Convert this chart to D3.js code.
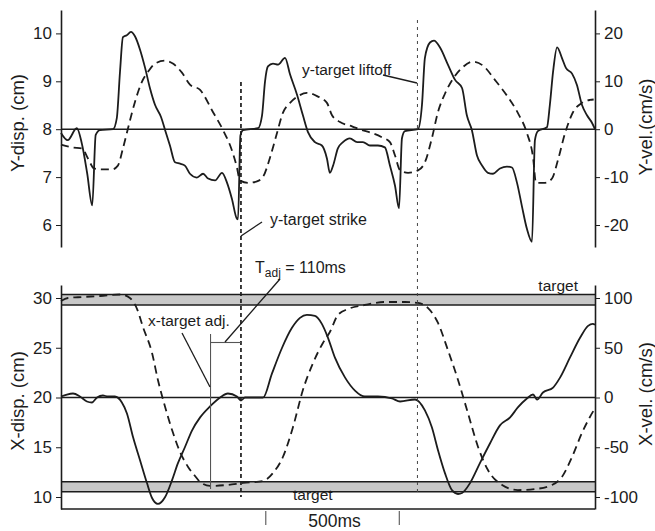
<!DOCTYPE html>
<html><head><meta charset="utf-8">
<script src="https://cdn.jsdelivr.net/npm/d3@7/dist/d3.min.js"></script>
<style>
html,body{margin:0;padding:0;background:#fff;}
svg{display:block;font-family:"Liberation Sans",Arial,Helvetica,sans-serif;}
</style></head><body>
<svg id="chart" width="655" height="531"></svg>
<script>
// ---------------- DATA ----------------
const timeRange = [0, 2000]; // ms

// Top panel: Y-velocity (solid, right axis, cm/s)
const yVelT = [0,25,59,80,98,117,130,146,195,209,221,232,246,262,277,296,315,333,352,375,390,408,427,446,464,483,509,532,551,577,603,622,640,659,663,672,682,738,753,764,775,794,813,839,858,884,906,925,951,977,996,1007,1019,1037,1056,1082,1109,1131,1157,1187,1213,1232,1251,1266,1277,1288,1337,1352,1363,1382,1397,1419,1449,1476,1502,1520,1539,1558,1577,1599,1618,1644,1670,1689,1708,1726,1745,1764,1775,1786,1820,1831,1843,1858,1876,1891,1914,1932,1951,1970,1989,2000];
const yVelV = [-0.8,-2.3,0.2,-3.5,-9.2,-15.9,-1.2,-0.2,0,2.3,12.0,19.2,19.6,20.3,19.4,16.6,12.8,8.6,5.1,2.5,-0.2,-3.4,-6.9,-7.2,-7.6,-9.3,-10.1,-9.3,-10.3,-10.7,-9.1,-11.2,-14.5,-18.7,-18.8,-1.3,-0.2,0.2,2.9,9.9,13.1,13.7,13.5,14.9,11.4,7.2,2.9,-0.6,-2.7,-3.4,-6.1,-9.1,-7.6,-4.0,-2.7,-1.9,-2.7,-2.7,-3.4,-3.4,-3.8,-7.6,-11.8,-16.5,-1.9,-0.4,0,5.1,14.9,18.1,18.5,17.1,13.5,10.3,8.6,2.9,-0.2,-5.5,-7.6,-9.1,-9.3,-8.2,-7.8,-8.0,-11.2,-16.0,-20.8,-23.5,-2.3,-0.4,0.4,5.1,12.0,17.1,14.9,12.8,11.6,9.3,5.1,2.9,1.3,0];

// Top panel: Y-displacement (dashed, left axis, cm)
const yDispT = [0,41,79,101,124,154,191,213,232,251,277,303,326,352,390,419,453,483,521,569,607,640,659,670,700,734,757,783,809,831,858,888,921,959,996,1015,1045,1090,1127,1165,1202,1232,1251,1270,1300,1337,1363,1389,1412,1438,1468,1502,1543,1580,1625,1674,1711,1745,1768,1779,1813,1839,1861,1888,1918,1951,1981,1995];
const yDispV = [7.68,7.62,7.60,7.39,7.18,7.16,7.16,7.24,7.60,8.02,8.57,8.99,9.20,9.37,9.43,9.37,9.18,8.93,8.82,8.36,7.98,7.56,7.20,6.93,6.88,6.91,7.01,7.41,7.92,8.34,8.55,8.69,8.76,8.69,8.55,8.29,8.15,8.06,7.98,7.92,7.83,7.73,7.45,7.14,7.09,7.14,7.31,7.81,8.36,8.74,9.05,9.28,9.41,9.33,9.03,8.67,8.34,7.92,7.41,6.88,6.88,6.97,7.35,7.92,8.36,8.55,8.61,8.62];

// Bottom panel: X-velocity (solid, right axis, cm/s)
const xVelT = [0,22,45,71,97,116,135,157,176,202,228,247,270,296,322,341,363,390,416,438,464,491,521,558,596,625,659,674,689,757,790,828,865,895,921,951,977,1000,1026,1064,1101,1138,1187,1240,1270,1326,1363,1389,1412,1438,1464,1487,1502,1532,1569,1607,1644,1682,1711,1745,1768,1783,1805,1843,1869,1906,1944,1974,1992,2000];
const xVelV = [1,3,4,1,-4,-5,0,2,1,1,-5,-16,-40,-63,-86,-101,-107,-100,-83,-66,-50,-33,-20,-9,0,4,1,-3,0,0,24,50,70,80,83,82,74,60,40,20,7,1,1,-1,-4,-2,-13,-30,-53,-76,-93,-97,-96,-86,-66,-46,-28,-20,-10,-1,3,-2,5,10,20,40,60,72,74,73];

// Bottom panel: X-displacement (dashed, left axis, cm)
const xDispT = [0,26,79,146,221,258,285,307,341,363,390,416,446,476,502,521,558,622,682,757,794,831,869,906,944,981,1007,1037,1075,1138,1213,1288,1337,1374,1412,1449,1487,1524,1562,1599,1652,1711,1775,1839,1876,1914,1951,1981,1996];
const xDispV = [29.70,30.00,30.10,30.20,30.35,30.00,28.89,27.09,24.47,21.76,19.05,16.73,14.52,13.02,12.11,11.51,11.11,11.21,11.41,11.61,12.41,14.02,17.04,20.75,23.47,25.48,26.58,28.29,28.89,29.30,29.60,29.60,29.50,29.00,27.49,24.77,21.76,18.44,15.03,12.71,11.21,10.70,10.80,11.21,12.01,14.02,16.43,18.04,18.74];

// Targets (cm) and event times (ms)
const targetFar = [29.3, 30.35];
const targetNear = [10.53, 11.54];
const yStrikeT = 674, yLiftoffT = 1335, xAdjT = 560;
const scaleBar = [767, 1267];

// Tick labels
const yDispTicks = [6,7,8,9,10];
const yVelTicks = [-20,-10,0,10,20];
const xDispTicks = [10,15,20,25,30];
const xVelTicks = [-100,-50,0,50,100];

// ---------------- SCALES ----------------
const svg = d3.select("#chart");
const x = d3.scaleLinear().domain(timeRange).range([61,595]);

function extend(s, r0, r1){ const d0=s.invert(r0), d1=s.invert(r1); return s.domain([d0,d1]).range([r0,r1]); }
const yDispS = extend(d3.scaleLinear().domain([6,10]).range([225,33.4]), 247, 10);
const yVelS  = extend(d3.scaleLinear().domain([-20,20]).range([225,33.4]), 247, 10);
const xDispS = extend(d3.scaleLinear().domain([10,30]).range([497,298]), 509, 285);
const xVelS  = extend(d3.scaleLinear().domain([-100,100]).range([497,298]), 509, 285);

const ink = "#1c1c1c";

// ---------------- BANDS ----------------
function band(rng){
  const y0 = xDispS(rng[1]), y1 = xDispS(rng[0]);
  svg.append("rect").attr("x",x(0)).attr("y",y0).attr("width",x(2000)-x(0)).attr("height",y1-y0).attr("fill","#c8c8c8");
  [y0,y1].forEach(yy=>svg.append("line").attr("x1",x(0)).attr("x2",x(2000)).attr("y1",yy).attr("y2",yy).attr("stroke",ink).attr("stroke-width",1.4));
}
band(targetFar); band(targetNear);

// zero lines
svg.append("line").attr("x1",x(0)).attr("x2",x(2000)).attr("y1",yVelS(0)).attr("y2",yVelS(0)).attr("stroke",ink).attr("stroke-width",1.6);
svg.append("line").attr("x1",x(0)).attr("x2",x(2000)).attr("y1",xVelS(0)).attr("y2",xVelS(0)).attr("stroke",ink).attr("stroke-width",1.4);
// bottom frame line
svg.append("line").attr("x1",x(0)).attr("x2",x(2000)).attr("y1",509).attr("y2",509).attr("stroke",ink).attr("stroke-width",1.5);

// ---------------- CURVES ----------------
function curve(T,V,ys,dash){
  const pts = T.map((t,i)=>[t,V[i]]);
  const line = d3.line().x(d=>x(d[0])).y(d=>ys(d[1])).curve(d3.curveMonotoneX);
  const p = svg.append("path").attr("d",line(pts)).attr("fill","none").attr("stroke",ink).attr("stroke-width",1.8).attr("stroke-linejoin","round");
  if(dash) p.attr("stroke-dasharray",dash);
}
curve(yDispT,yDispV,yDispS,"8,5");
curve(yVelT,yVelV,yVelS,null);
curve(xDispT,xDispV,xDispS,"8,5");
curve(xVelT,xVelV,xVelS,null);

// ---------------- EVENT LINES ----------------
svg.append("line").attr("x1",x(yStrikeT)).attr("x2",x(yStrikeT)).attr("y1",82).attr("y2",497)
  .attr("stroke",ink).attr("stroke-width",1.7).attr("stroke-dasharray","4,3");
svg.append("line").attr("x1",x(yLiftoffT)).attr("x2",x(yLiftoffT)).attr("y1",20).attr("y2",492)
  .attr("stroke","#444").attr("stroke-width",1).attr("stroke-dasharray","3,4");

// bracket for T_adj
svg.append("line").attr("x1",x(xAdjT)).attr("x2",x(xAdjT)).attr("y1",334).attr("y2",489).attr("stroke","#555").attr("stroke-width",1.1);
svg.append("line").attr("x1",x(xAdjT)).attr("x2",x(yStrikeT)).attr("y1",342.5).attr("y2",342.5).attr("stroke","#555").attr("stroke-width",1.1);

// leader lines
const leaders = [[383,75,417,83],[241,236,262,222],[182,333,210,387],[280,279,225,342]];
leaders.forEach(l=>svg.append("line").attr("x1",l[0]).attr("y1",l[1]).attr("x2",l[2]).attr("y2",l[3]).attr("stroke",ink).attr("stroke-width",1.3));

// ---------------- TEXT ----------------
function txt(s,xx,yy,size,anchor){
  return svg.append("text").attr("x",xx).attr("y",yy).attr("font-size",size).attr("fill",ink).attr("text-anchor",anchor||"start").text(s);
}
txt("y-target liftoff",302,75,15.5);
txt("y-target strike",270,225,16);
txt("x-target adj.",148,326,15.5);
txt("target",578,291,15.5,"end");
txt("target",293,500,15.5);
const tadj = svg.append("text").attr("x",255).attr("y",273).attr("font-size",16).attr("fill",ink);
tadj.append("tspan").text("T");
tadj.append("tspan").attr("font-size",12).attr("dy",4).text("adj");
tadj.append("tspan").attr("dy",-4).text(" = 110ms");

// scale bar
scaleBar.forEach(t=>svg.append("line").attr("x1",x(t)).attr("x2",x(t)).attr("y1",511).attr("y2",525).attr("stroke","#555").attr("stroke-width",1.1));
txt("500ms",(x(scaleBar[0])+x(scaleBar[1]))/2+2,527,17.5,"middle");

// ---------------- AXES ----------------
function styleAxis(g){
  g.selectAll("path.domain").attr("stroke",ink).attr("stroke-width",1.6);
  g.selectAll(".tick line").attr("stroke",ink).attr("stroke-width",1);
  g.selectAll(".tick text").attr("fill",ink).attr("font-size",17).attr("font-family",'"Liberation Sans",Arial,sans-serif');
}
const fmt = d => String(Math.round(d));
svg.append("g").attr("transform",`translate(${x(0)},0)`).call(d3.axisLeft(yDispS).tickValues(yDispTicks).tickSizeInner(5).tickSizeOuter(0).tickPadding(4).tickFormat(fmt)).call(styleAxis);
svg.append("g").attr("transform",`translate(${x(2000)},0)`).call(d3.axisRight(yVelS).tickValues(yVelTicks).tickSizeInner(5).tickSizeOuter(0).tickPadding(4).tickFormat(fmt)).call(styleAxis);
svg.append("g").attr("transform",`translate(${x(0)},0)`).call(d3.axisLeft(xDispS).tickValues(xDispTicks).tickSizeInner(5).tickSizeOuter(0).tickPadding(4).tickFormat(fmt)).call(styleAxis);
svg.append("g").attr("transform",`translate(${x(2000)},0)`).call(d3.axisRight(xVelS).tickValues(xVelTicks).tickSizeInner(5).tickSizeOuter(0).tickPadding(4).tickFormat(fmt)).call(styleAxis);

function title(s,xx,yy){
  svg.append("text").attr("transform",`translate(${xx},${yy}) rotate(-90)`).attr("text-anchor","middle").attr("font-size",18.5).attr("fill",ink).text(s);
}
title("Y-disp. (cm)",24,123);
title("Y-vel.(cm/s)",652,127);
title("X-disp. (cm)",24,401);
title("X-vel. (cm/s)",652,394);
</script>
</body></html>
